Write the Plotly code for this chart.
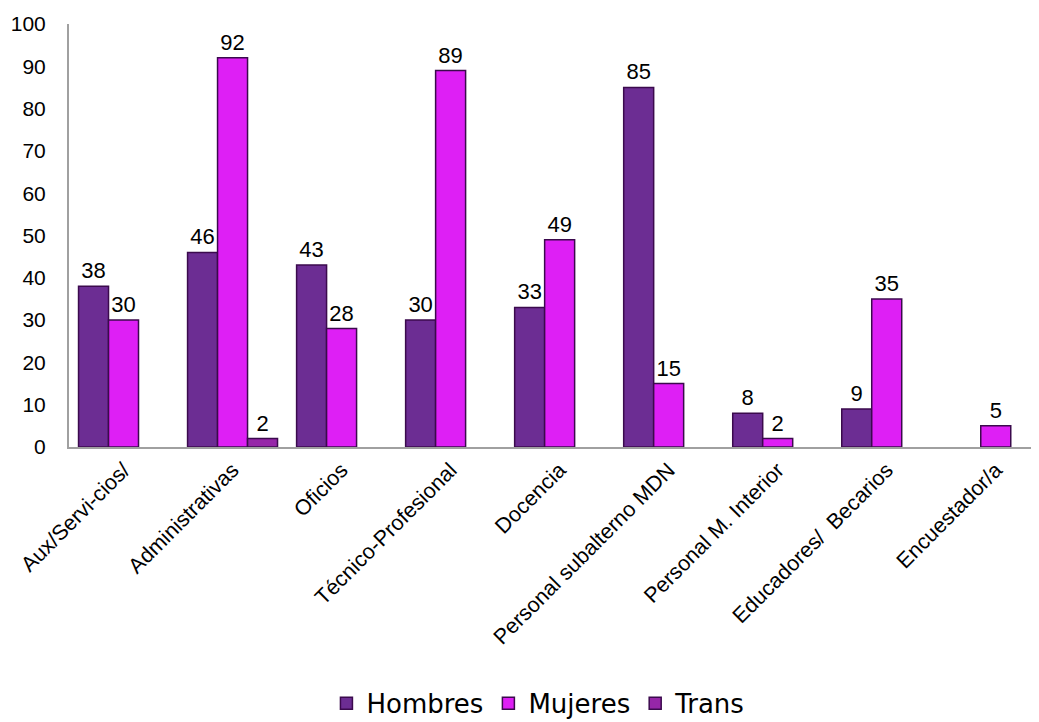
import plotly.graph_objects as go

categories = ["Aux/Servi-cios/", "Administrativas", "Oficios", "Técnico-Profesional",
              "Docencia", "Personal subalterno MDN", "Personal M. Interior",
              "Educadores/  Becarios", "Encuestador/a"]
hombres = [38, 46, 43, 30, 33, 85, 8, 9, None]
mujeres = [30, 92, 28, 89, 49, 15, 2, 35, 5]
trans = [None, 2, None, None, None, None, None, None, None]

series = [("Hombres", hombres, "#6c2d93"), ("Mujeres", mujeres, "#de1ff5"), ("Trans", trans, "#9626a8")]

FONT = "Liberation Sans Narrow, Arial Narrow, Liberation Sans, Arial"

fig = go.Figure()
for name, vals, color in series:
    fig.add_trace(go.Bar(
        name=name, x=categories, y=vals,
        marker=dict(color=color, line=dict(color="#3b0a4d", width=1.5)),
        text=[("" if v is None else str(v)) for v in vals],
        textposition="outside", cliponaxis=False,
        textfont=dict(family=FONT, size=22, color="#000000"),
    ))

fig.update_layout(
    barmode="group", bargap=0.175, bargroupgap=0,
    width=1039, height=722,
    paper_bgcolor="white", plot_bgcolor="white",
    margin=dict(l=61, r=0, t=16, b=283, autoexpand=False),
    showlegend=True,
    legend=dict(orientation="h", x=0.48, xanchor="center", y=-0.606, yanchor="middle",
                font=dict(family="DejaVu Sans", size=26, color="#000000"),
                traceorder="normal", itemwidth=30),
)
fig.update_yaxes(range=[0, 100], dtick=10, showgrid=False, zeroline=False,
                 showline=True, linecolor="#a0a0a0", linewidth=2, ticks="",
                 automargin=False, ticklabeloverflow="allow",
                 tickfont=dict(family=FONT, size=21, color="#000000"),
                 ticklabelstandoff=17)
fig.update_xaxes(showgrid=False, showline=True, linecolor="#a0a0a0", linewidth=2, ticks="",
                 automargin=False, range=[-0.5, 8.47], ticklabeloverflow="allow",
                 tickangle=-45,
                 tickfont=dict(family=FONT, size=21.5, color="#000000"))

fig.write_html("out.html")
